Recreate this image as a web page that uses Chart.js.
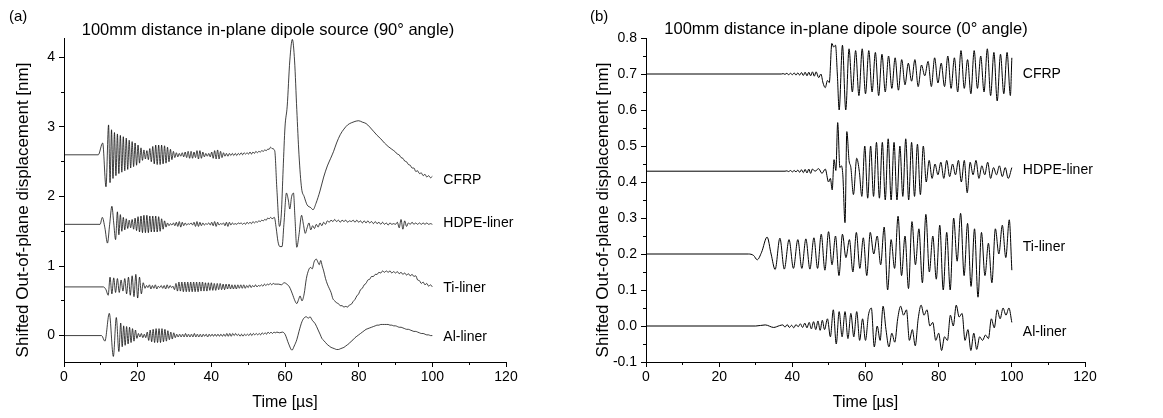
<!DOCTYPE html>
<html>
<head>
<meta charset="utf-8">
<script src="https://cdn.jsdelivr.net/npm/chart.js@4/dist/chart.umd.min.js"></script>
<style>
  html, body { margin: 0; padding: 0; background: #fff; }
  #wrap { position: relative; width: 1163px; height: 418px; }
  canvas { position: absolute; top: 0; }
</style>
</head>
<body>
<div id="wrap">
  <canvas id="chartA" width="580" height="418" style="left:0"></canvas>
  <canvas id="chartB" width="583" height="418" style="left:580px"></canvas>
</div>
<script>
(function() {
  'use strict';

  // series names (same order in both panels)
  var seriesNames = ['CFRP', 'HDPE-liner', 'Ti-liner', 'Al-liner'];

  // ticks
  var ticksX = [0, 20, 40, 60, 80, 100, 120];
  var minorX = [10, 30, 50, 70, 90, 110];
  var ticksYA = [0, 1, 2, 3, 4];
  var minorYA = [0.5, 1.5, 2.5, 3.5];
  var ticksYB = [-0.1, 0, 0.1, 0.2, 0.3, 0.4, 0.5, 0.6, 0.7, 0.8];
  var minorYB = [-0.05, 0.05, 0.15, 0.25, 0.35, 0.45, 0.55, 0.65, 0.75];

  // waveforms, time in µs.
  // entry [t, v] is one point, entry [t0, dt, [v...]] is a run sampled every dt
  // (a) 90° angle
  var cfrpA = [
    [0, 9.3, [2.6, 2.6]],
    [10.5, 2.77], [11.4, 2.14],
    [12.1, 0.4, [3.03, 2.2, 2.96, 2.26, 2.92, 2.3, 2.9, 2.33, 2.88, 2.35,
      2.86, 2.37, 2.84, 2.39, 2.81, 2.41, 2.79, 2.43, 2.77, 2.45,
      2.74, 2.48, 2.7, 2.52, 2.67, 2.54, 2.66, 2.53, 2.69, 2.5,
      2.72, 2.47, 2.74, 2.46, 2.74, 2.46, 2.74, 2.47, 2.73, 2.48,
      2.71, 2.5, 2.68, 2.53, 2.65, 2.56, 2.63, 2.57, 2.62, 2.58,
      2.63, 2.57, 2.64, 2.56, 2.65, 2.55, 2.65, 2.55, 2.64, 2.56,
      2.66, 2.54, 2.66, 2.55, 2.64, 2.57, 2.62, 2.58, 2.62, 2.57,
      2.64, 2.55, 2.66, 2.54, 2.67, 2.54, 2.65, 2.56, 2.63, 2.58,
      2.62, 2.58, 2.62, 2.59, 2.62, 2.59, 2.62, 2.59, 2.62, 2.6,
      2.63, 2.6, 2.63, 2.61, 2.63, 2.61, 2.64, 2.61, 2.64, 2.62,
      2.65, 2.63, 2.65, 2.64, 2.66, 2.65, 2.67, 2.66, 2.68, 2.68,
      2.71, 2.69]],
    [57.2, 2.66], [57.8, 2.1], [58.5, 1.57], [59.0, 1.75], [59.5, 2.4], [60.0, 3.0],
    [60.6, 3.3], [61.3, 3.95], [62.0, 4.26], [62.6, 3.95], [63.2, 3.25], [63.8, 2.6],
    [64.5, 2.12], [65.2, 2.0], [66.0, 1.88], [67.0, 1.84], [67.6, 1.81], [68.4, 1.9],
    [69.5, 2.08], [70.5, 2.28], [71.5, 2.44], [72.4, 2.55], [73.2, 2.65], [74.0, 2.77],
    [75.0, 2.89], [76.0, 2.97], [77.0, 3.03], [78.0, 3.06], [79.0, 3.08], [80.0, 3.09],
    [81.0, 3.07], [82.0, 3.05], [83.0, 3.0], [84.0, 2.94], [85.0, 2.88], [86.0, 2.83],
    [87.0, 2.77], [88.0, 2.72], [89.0, 2.68],
    [90, 0.5, [2.64, 2.61, 2.6, 2.56, 2.55, 2.51, 2.5, 2.46, 2.45, 2.41, 2.41,
      2.36, 2.37, 2.33, 2.34, 2.3, 2.32, 2.28, 2.3, 2.27, 2.29]]
  ];

  var hdpeA = [
    [0, 9.8, [1.6, 1.6]],
    [10.4, 1.7], [11.1, 1.55], [11.8, 1.33], [12.4, 1.6], [13.0, 1.86], [13.5, 1.62], [14.0, 1.38],
    [14.5, 0.4, [1.78, 1.45, 1.74, 1.5, 1.7, 1.52, 1.68, 1.54, 1.66, 1.55,
      1.67, 1.53, 1.69, 1.51, 1.71, 1.49, 1.72, 1.48, 1.73, 1.48,
      1.73, 1.48, 1.72, 1.49, 1.72, 1.49, 1.72, 1.49, 1.71, 1.5,
      1.68, 1.53, 1.65, 1.56, 1.62, 1.58, 1.61, 1.59, 1.62, 1.58,
      1.63, 1.57, 1.64, 1.56, 1.63, 1.58, 1.62, 1.59, 1.61, 1.6,
      1.62, 1.59, 1.63, 1.57, 1.64, 1.57, 1.63, 1.58, 1.62, 1.59,
      1.61, 1.6, 1.62, 1.59, 1.63, 1.58, 1.64, 1.57, 1.63, 1.59,
      1.61, 1.6, 1.62, 1.58, 1.63, 1.57, 1.63, 1.59, 1.62, 1.6, 1.61, 1.6, 1.62, 1.61,
      1.62, 1.6, 1.62, 1.6, 1.63, 1.61, 1.63, 1.61, 1.64, 1.62,
      1.64, 1.63, 1.65, 1.64, 1.66, 1.65, 1.67, 1.66, 1.69, 1.68,
      1.7, 1.68]],
    [57.1, 1.7], [57.6, 1.55], [58.1, 1.35], [58.6, 1.28], [59.2, 1.28], [59.7, 1.6],
    [60.4, 2.05], [60.9, 1.95], [61.3, 1.82], [61.8, 2.0], [62.3, 2.05], [62.7, 1.7],
    [63.2, 1.27], [63.8, 1.45], [64.5, 1.73], [65.0, 1.6], [65.5, 1.47], [66.0, 1.55],
    [66.5, 1.62], [67.0, 1.52], [67.5, 1.58], [68.0, 1.54], [68.5, 1.6], [69.0, 1.56],
    [69.5, 1.62], [70.0, 1.58], [70.5, 1.63], [71.0, 1.6], [71.5, 1.65],
    [72, 0.5, [1.63, 1.66, 1.64, 1.67, 1.64, 1.66, 1.63, 1.66, 1.64, 1.66,
      1.63, 1.65, 1.64, 1.66, 1.63, 1.66, 1.63, 1.65, 1.62, 1.65,
      1.62, 1.65, 1.62, 1.64, 1.61, 1.64, 1.61, 1.63, 1.6, 1.63,
      1.6, 1.62, 1.59, 1.62, 1.6, 1.61, 1.6, 1.63, 1.55, 1.67,
      1.53, 1.65, 1.57, 1.62, 1.6, 1.63, 1.6, 1.62, 1.6, 1.62,
      1.6, 1.62, 1.6, 1.62, 1.6, 1.61, 1.6]]
  ];

  var tiA = [
    [0, 10.7, [0.7, 0.7]],
    [11.4, 0.66],
    [12.0, 0.5, [0.58, 0.84, 0.6, 0.83, 0.62, 0.82, 0.62, 0.8, 0.64, 0.82,
      0.6, 0.84, 0.58, 0.86, 0.56, 0.88, 0.54, 0.84, 0.6, 0.76]],
    [22.0, 0.4, [0.68, 0.72, 0.69, 0.73, 0.67, 0.72, 0.68, 0.73, 0.67, 0.71,
      0.69, 0.72, 0.68, 0.72, 0.67, 0.73, 0.68, 0.72, 0.69, 0.71,
      0.66, 0.75, 0.64, 0.77, 0.64, 0.77, 0.63, 0.77, 0.63, 0.77,
      0.63, 0.77, 0.63, 0.77, 0.63, 0.77, 0.63, 0.77, 0.64, 0.77,
      0.64, 0.76, 0.64, 0.76, 0.65, 0.76, 0.65, 0.75, 0.65, 0.75,
      0.66, 0.75, 0.66, 0.74, 0.66, 0.74, 0.67, 0.74, 0.67, 0.73,
      0.67, 0.73, 0.67, 0.73, 0.68, 0.73, 0.68, 0.73, 0.68, 0.72,
      0.69, 0.73, 0.69, 0.72, 0.7, 0.73, 0.7, 0.72, 0.71, 0.73,
      0.71, 0.74, 0.72, 0.74, 0.73, 0.75, 0.73, 0.75, 0.74, 0.74]],
    [58.3, 0.74], [59.0, 0.73], [59.8, 0.76], [60.5, 0.74], [61.2, 0.7], [62.0, 0.6],
    [62.7, 0.5], [63.2, 0.46], [63.7, 0.52], [64.1, 0.57], [64.6, 0.5], [65.2, 0.6],
    [65.8, 0.82], [66.4, 0.94], [66.9, 0.98], [67.4, 0.96], [67.9, 1.06], [68.5, 1.1],
    [68.9, 1.06], [69.3, 1.02], [69.7, 1.08], [70.1, 1.0], [70.5, 0.93], [71.0, 0.82],
    [71.5, 0.74], [72.0, 0.68], [72.5, 0.62],
    [73, 0.5, [0.53, 0.5, 0.47, 0.46, 0.43, 0.43, 0.41, 0.42, 0.41, 0.44,
      0.45, 0.49, 0.52, 0.57, 0.6, 0.66, 0.68, 0.73, 0.75, 0.8,
      0.81, 0.85, 0.85, 0.88, 0.88, 0.91, 0.9, 0.93, 0.91, 0.93,
      0.91, 0.93, 0.9, 0.92, 0.9, 0.92, 0.89, 0.91, 0.88, 0.9,
      0.87, 0.89, 0.86, 0.88, 0.85, 0.86, 0.8, 0.79, 0.75, 0.77,
      0.73, 0.75, 0.71, 0.73, 0.7]]
  ];

  var alA = [
    [0, 10.2, [0, 0]],
    [11.1, -0.08], [12.3, 0.32], [13.4, -0.3], [14.2, 0.26], [14.9, -0.23],
    [15.4, 0.4, [0.18, -0.16, 0.14, -0.14, 0.13, -0.12, 0.12, -0.1, 0.1, -0.08,
      0.08, -0.04, 0.03, -0.02, 0.03, -0.03, 0.02, -0.03,
      0.05, -0.07, 0.08, -0.09, 0.09, -0.1, 0.1, -0.1, 0.1, -0.1,
      0.1, -0.09, 0.09, -0.08, 0.07, -0.06, 0.05, -0.05, 0.04, -0.03,
      0.02, -0.02, 0.02, -0.02, 0.02, -0.02, 0.03, -0.02, 0.02, -0.02,
      0.02, -0.02, 0.03, -0.02, 0.02, -0.02, 0.02, -0.02, 0.02, -0.01,
      0.02, -0.02, 0.02, -0.01, 0.02, -0.01, 0.02, -0.01, 0.02, -0.01,
      0.02, -0.01, 0.02, -0.01, 0.03, -0.01, 0.03, -0.01, 0.03, 0.0,
      0.03, 0.0, 0.02, -0.01, 0.02, -0.01, 0.02, 0.0, 0.02, 0.0,
      0.03, 0.0, 0.03, 0.01, 0.03, 0.01, 0.03, 0.01, 0.04, 0.02,
      0.04, 0.02, 0.05, 0.03, 0.05, 0.03, 0.05, 0.04, 0.05]],
    [58.5, 0.04], [59.3, 0.05], [60.0, 0.02], [61.0, -0.12], [61.9, -0.21], [62.5, -0.15],
    [63.2, -0.06], [63.8, 0.06], [64.6, 0.2], [65.3, 0.26], [65.8, 0.27], [66.3, 0.25],
    [66.8, 0.27], [67.4, 0.22], [68.2, 0.17], [69.0, 0.08], [69.6, 0.01],
    [70, 0.5, [-0.04, -0.07, -0.1, -0.13, -0.15, -0.17, -0.18, -0.19, -0.2, -0.2,
      -0.19, -0.18, -0.17, -0.15, -0.13, -0.11, -0.08, -0.06, -0.03, -0.01,
      0.01, 0.03, 0.05, 0.07, 0.09, 0.1, 0.11, 0.12, 0.13, 0.14,
      0.15, 0.15, 0.16, 0.16, 0.16, 0.16, 0.16, 0.15, 0.15, 0.14,
      0.14, 0.13, 0.12, 0.12, 0.11, 0.1, 0.09, 0.09, 0.08, 0.07,
      0.06, 0.06, 0.05, 0.04, 0.03, 0.03, 0.02, 0.01, 0.01, 0.0, 0.0]]
  ];

  // (b) 0° angle
  var cfrpB = [
    [0, 37, [0.7, 0.7]],
    [37.5, 0.5, [0.701, 0.699, 0.702, 0.698, 0.702, 0.698, 0.703, 0.697, 0.703, 0.697,
      0.704, 0.696, 0.705, 0.695, 0.705, 0.695, 0.706, 0.694, 0.706]],
    [47.2, 0.69], [47.8, 0.7], [48.4, 0.675], [49.0, 0.662], [49.6, 0.682], [50.1, 0.676],
    [50.8, 0.785], [51.3, 0.775], [51.8, 0.78], [52.3, 0.7],
    [52.8, 0.9, [0.6, 0.78, 0.6, 0.77, 0.65, 0.765, 0.64, 0.77, 0.645, 0.765,
      0.65, 0.76, 0.64, 0.755, 0.65, 0.75, 0.66, 0.745, 0.655, 0.74,
      0.67, 0.73, 0.68, 0.74, 0.665, 0.725, 0.695, 0.735, 0.665, 0.745,
      0.675, 0.73, 0.665, 0.75, 0.66, 0.745, 0.65, 0.765, 0.66, 0.74,
      0.645, 0.765, 0.66, 0.75, 0.65, 0.77, 0.64, 0.76, 0.625, 0.755,
      0.645, 0.76, 0.64]],
    [100, 0.745]
  ];

  var hdpeB = [
    [0, 38, [0.43, 0.43]],
    [38.5, 0.5, [0.431, 0.429, 0.432, 0.428, 0.432, 0.428, 0.433, 0.427, 0.434, 0.426,
      0.435, 0.425, 0.436, 0.424, 0.436]],
    [46.2, 0.43], [47.2, 0.437], [48.1, 0.424], [49.0, 0.436], [49.9, 0.4], [50.4, 0.41],
    [50.9, 0.378], [51.4, 0.462], [51.9, 0.432], [52.4, 0.565], [53.0, 0.44], [53.4, 0.445],
    [53.8, 0.42], [54.4, 0.287], [54.9, 0.54], [55.5, 0.46], [56.0, 0.44], [56.7, 0.365],
    [57.6, 0.466], [58.3, 0.43],
    [59.0, 0.8, [0.36, 0.5, 0.355, 0.5, 0.36, 0.51, 0.355, 0.51, 0.35, 0.52,
      0.35, 0.51, 0.35, 0.5, 0.36, 0.52, 0.35, 0.51, 0.36, 0.505, 0.365, 0.5]],
    [76.6, 0.8, [0.4, 0.46, 0.41, 0.45, 0.42, 0.455, 0.41, 0.46, 0.415, 0.45,
      0.42, 0.46, 0.4, 0.46, 0.37, 0.455, 0.42, 0.46, 0.41, 0.445,
      0.42, 0.455, 0.41, 0.44, 0.42, 0.445, 0.415, 0.44, 0.41]],
    [100, 0.44]
  ];

  var tiB = [
    [0, 28, [0.2, 0.2]],
    [29.4, 0.196], [30.4, 0.184], [31.6, 0.205], [33.1, 0.247], [34.2, 0.2], [35.3, 0.157],
    [36.6, 0.244], [37.8, 0.158], [39.1, 0.24], [40.3, 0.16], [41.5, 0.24], [42.6, 0.16],
    [43.7, 0.242], [44.8, 0.158], [45.9, 0.245], [46.9, 0.16], [47.9, 0.255], [48.9, 0.155],
    [49.9, 0.95, [0.262, 0.17, 0.25, 0.14, 0.255, 0.19, 0.24, 0.15, 0.26, 0.16,
      0.245, 0.14, 0.26, 0.2, 0.25, 0.17, 0.275, 0.1, 0.24, 0.16,
      0.305, 0.14, 0.25, 0.104, 0.29, 0.17, 0.27, 0.12, 0.31, 0.15,
      0.25, 0.13, 0.28, 0.1, 0.26, 0.1, 0.3, 0.18, 0.313, 0.14,
      0.285, 0.11, 0.27, 0.08, 0.26, 0.14, 0.23, 0.12, 0.27, 0.2,
      0.28, 0.19]],
    [99.3, 0.295], [100, 0.155]
  ];

  var alB = [
    [0, 30, [0, 0]],
    [32.6, 0.003], [34.9, -0.004], [36.5, 0.001],
    [37.4, 0.6, [0.003, -0.003, 0.004, -0.004, 0.002, -0.005, 0.004, -0.002, 0.006, -0.004,
      0.008, -0.005, 0.01, -0.008, 0.012, -0.01, 0.014, -0.012, 0.016, -0.01]],
    [49.6, 0.8, [0.02, -0.03, 0.045, -0.05, 0.04, -0.03, 0.04, -0.035, 0.035, -0.03,
      0.04, -0.04, 0.02, -0.04, 0.03, 0.05, -0.058, 0.0, -0.04, 0.055,
      -0.01, -0.058, -0.02, -0.045, 0.02, 0.055, 0.03, 0.045, -0.04, -0.01,
      -0.055, 0.02, 0.058, 0.03, 0.045, 0.0, 0.01, -0.04, -0.02, -0.068,
      -0.03, -0.04, 0.03, 0.0, 0.058, 0.025, 0.035, -0.04, -0.01, -0.068,
      -0.02, -0.065, -0.03, -0.04, -0.025, -0.035, 0.02, -0.005, 0.045, 0.02,
      0.05, 0.03, 0.05]],
    [100, 0.01]
  ];

  var FONT = "'Liberation Sans', Arial, Helvetica, sans-serif";
  var Y_TITLE = 'Shifted Out-of-plane displacement [nm]';

  function expand(segs) {
    var pts = [];
    segs.forEach(function(s) {
      if (Array.isArray(s[2])) {
        s[2].forEach(function(v, i) {
          pts.push({ x: +(s[0] + i * s[1]).toFixed(3), y: v });
        });
      } else {
        pts.push({ x: s[0], y: s[1] });
      }
    });
    return pts;
  }

  // titles, labels and minor ticks
  var panelText = {
    id: 'panelText',
    afterDraw: function(chart, args, o) {
      var c = chart.ctx, xs = chart.scales.x, ys = chart.scales.y, a = chart.chartArea;
      c.save();
      c.strokeStyle = '#000';
      c.lineWidth = 1;
      c.beginPath();
      o.minorX.forEach(function(v) {
        var px = Math.round(xs.getPixelForValue(v) - 0.5) + 0.5;
        c.moveTo(px, a.bottom);
        c.lineTo(px, a.bottom + 3);
      });
      o.minorY.forEach(function(v) {
        var py = Math.round(ys.getPixelForValue(v) - 0.5) + 0.5;
        c.moveTo(a.left, py);
        c.lineTo(a.left - 3, py);
      });
      c.stroke();

      c.fillStyle = '#000';
      c.textBaseline = 'middle';
      c.textAlign = 'left';
      c.font = '15px ' + FONT;
      c.fillText(o.panel, o.panelX, 17);

      c.textAlign = 'center';
      c.font = '16.5px ' + FONT;
      c.fillText(o.title, o.titleX, o.titleY);

      c.font = '16px ' + FONT;
      c.fillText('Time [\u00b5s]', (a.left + a.right) / 2, 403);

      c.save();
      c.translate(23, 210);
      c.rotate(-Math.PI / 2);
      c.font = '17px ' + FONT;
      c.fillText(Y_TITLE, 0, 0);
      c.restore();

      c.textAlign = 'left';
      c.font = '14px ' + FONT;
      seriesNames.forEach(function(n, i) {
        c.fillText(n, xs.getPixelForValue(100) + 11, ys.getPixelForValue(o.labelAt[i]));
      });
      c.restore();
    }
  };

  function makeChart(id, cfg) {
    var ctx = document.getElementById(id).getContext('2d');
    var axisGrid = { display: true, drawOnChartArea: false, drawTicks: true, tickLength: 5, color: '#000', lineWidth: 1 };
    var axisBorder = { display: true, color: '#000', width: 1 };
    var tickFont = { family: FONT, size: 14 };

    return new Chart(ctx, {
      type: 'line',
      data: {
        datasets: cfg.series.map(function(s) {
          return {
            data: expand(s),
            borderColor: '#000',
            borderWidth: cfg.lineWidth,
            pointRadius: 0,
            fill: false,
            cubicInterpolationMode: 'monotone'
          };
        })
      },
      options: {
        responsive: false,
        animation: false,
        devicePixelRatio: 1,
        events: [],
        layout: { padding: { top: 38, right: cfg.padRight, left: 0, bottom: 0 } },
        plugins: {
          legend: { display: false },
          tooltip: { enabled: false },
          panelText: cfg.text
        },
        scales: {
          x: {
            type: 'linear',
            min: 0,
            max: 120,
            afterBuildTicks: function(s) { s.ticks = ticksX.map(function(v) { return { value: v }; }); },
            afterFit: function(s) { s.height = 56; },
            ticks: { color: '#000', font: tickFont, padding: 2, maxRotation: 0, autoSkip: false,
              callback: function(v) { return String(v); } },
            grid: axisGrid,
            border: axisBorder
          },
          y: {
            min: cfg.yMin,
            max: cfg.yMax,
            afterBuildTicks: function(s) { s.ticks = cfg.yTicks.map(function(v) { return { value: v }; }); },
            afterFit: function(s) { s.width = cfg.yWidth; },
            ticks: { color: '#000', font: tickFont, padding: 4, autoSkip: false, callback: cfg.yFmt },
            grid: axisGrid,
            border: axisBorder
          }
        }
      },
      plugins: [panelText]
    });
  }

  function init() {
    makeChart('chartA', {
      series: [cfrpA, hdpeA, tiA, alA],
      yMin: -0.38, yMax: 4.28, yTicks: ticksYA, yWidth: 64, padRight: 74, lineWidth: 0.75,
      yFmt: function(v) { return String(v); },
      text: {
        panel: '(a)', panelX: 9,
        title: '100mm distance in-plane dipole source (90\u00b0 angle)', titleX: 268, titleY: 30,
        minorX: minorX, minorY: minorYA,
        labelAt: [2.24, 1.61, 0.68, -0.02]
      }
    });
    makeChart('chartB', {
      series: [cfrpB, hdpeB, tiB, alB],
      yMin: -0.1, yMax: 0.8, yTicks: ticksYB, yWidth: 66, padRight: 78, lineWidth: 1,
      yFmt: function(v) { return v.toFixed(1); },
      text: {
        panel: '(b)', panelX: 10,
        title: '100mm distance in-plane dipole source (0\u00b0 angle)', titleX: 266, titleY: 29,
        minorX: minorX, minorY: minorYB,
        labelAt: [0.699, 0.434, 0.22, -0.016]
      }
    });
  }

  init();
})();
</script>
</body>
</html>
